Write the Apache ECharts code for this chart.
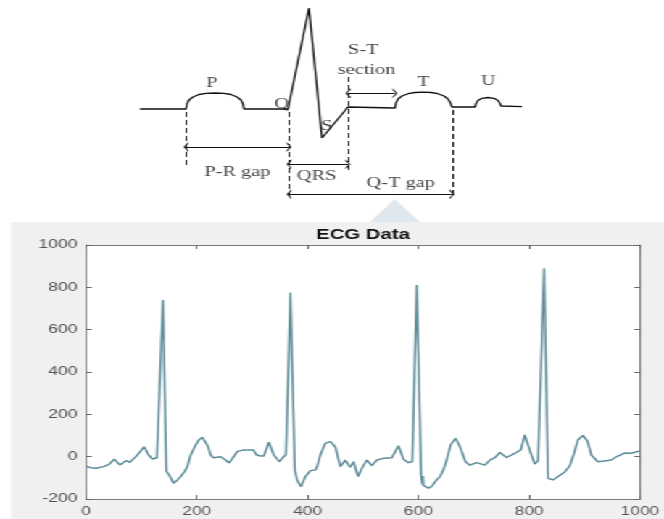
<!DOCTYPE html>
<html>
<head>
<meta charset="utf-8">
<script src="https://cdn.jsdelivr.net/npm/echarts@6/dist/echarts.min.js"></script>
<style>
  html, body { margin: 0; padding: 0; background: #fff; overflow: hidden; }
  /* the source picture is stretched sideways, so draw narrow and stretch */
  #chart { width: 458px; height: 519px; transform: scaleX(1.44978); transform-origin: 0 0; }
</style>
</head>
<body>
<div id="chart"></div>
<script>
// ---- schematic beat (t along the beat, a = amplitude above baseline) ----
const waveform = [
  [0, 0], [46, 0],
  [47, 5], [49, 9], [53, 12], [59, 14.5], [66, 15.7], [75, 16], [84, 15.7], [91, 14.5], [97, 12], [101, 9], [103, 5], [104, 0],
  [148, 0], [169, 101], [182, -29], [208, 2], [255, 1],
  [256, 6], [258, 10], [262, 13], [268, 15.3], [275, 16.5], [283, 16.8], [291, 16.5], [298, 15.3], [304, 13], [308, 10], [310.5, 6], [312, 2],
  [335, 2], [336, 5.5], [338, 8.5], [342, 10.7], [348, 11.5], [354, 10.7], [358, 8.5], [360, 5.5], [361, 3],
  [382, 2.3]
];
const guideLines = [
  [[46, -3], [46, -58]],
  [[149, -3], [149, -91]],
  [[208, 32], [208, -61]],
  [[312, -1], [312, -86]]
];
const spans = [
  [[46, -38], [149, -38]],
  [[149, -55.3], [208, -55.3]],
  [[149, -85.3], [312, -85.3]],
  [[208, 15.7], [255, 15.7]]
];
const waveLabels = [
  ['P', 71.7, 25.7], ['Q', 141.7, 5], ['S', 186.7, -17],
  ['S-T', 223.3, 58.3], ['section', 226.7, 38.3],
  ['T', 283.3, 26.3], ['U', 348.3, 27.3],
  ['P-R gap', 97.3, -63.7], ['QRS', 176.7, -67], ['Q-T gap', 260.7, -74.3]
];

// ---- ECG recording (sample index, amplitude) ----
const ecgSamples = [
  [0, -45], [8, -52], [18, -55], [32, -47], [42, -35], [51, -12], [56, -18], [61, -39], [66, -35], [72, -19],
  [79, -27], [84, -18], [90, 0], [99, 27], [105, 47], [109, 40], [113, 8], [120, -11], [128, -5], [131, 0],
  [139, 740], [145, -70], [150, -86], [158, -126], [165, -110], [171, -94], [178, -70], [183, -47], [189, 8],
  [198, 55], [204, 80], [210, 92], [215, 85], [220, 50], [225, 8], [230, -5], [234, -11], [243, 0], [252, -16],
  [258, -30], [263, -34], [268, 5], [273, 24], [284, 32], [302, 32], [308, 8], [315, 3], [321, 3], [330, 68],
  [339, 8], [349, -24], [355, -5], [361, 10], [369, 775], [377, -63], [381, -110], [388, -142], [396, -94],
  [405, -66], [414, -63], [418, -40], [423, 8], [432, 63], [441, 71], [450, 47], [459, -47], [468, -16],
  [477, -50], [483, -24], [491, -94], [498, -55], [507, -16], [516, -42], [525, -16], [537, -8], [552, -5],
  [564, 52], [573, -12], [582, -28], [589, -24], [597, 811], [605, -86], [607, -130], [608, -92], [609, -136],
  [612, -138], [618, -149], [624, -140], [633, -110], [639, -94], [645, -63], [651, -16], [658, 55], [667, 87],
  [675, 47], [685, -24], [693, -40], [705, -28], [720, -40], [729, -16], [738, -5], [747, 20], [759, -4],
  [774, 16], [785, 32], [792, 103], [801, 30], [810, -35], [816, -20], [827, 890], [834, -102], [843, -110],
  [852, -94], [863, -75], [873, -45], [880, 8], [888, 79], [897, 100], [905, 75], [912, 8], [924, -24],
  [936, -20], [948, -16], [960, 3], [972, 17], [984, 16], [995, 24], [1000, 26]
];
const xRange = [0, 1000];
const yRange = [-200, 1000];
const tickStep = 200;

const S = 664 / 458; // horizontal stretch
const chev = 'path://M5,0 L10,10 L8.4,10 L5,3 L1.6,10 L0,10 Z';

const axisGray = '#7a7a7a';
const labelStyle = { color: '#555', fontSize: 12, fontFamily: 'Liberation Sans', formatter: v => String(v) };

const chart = echarts.init(document.getElementById('chart'));

const boxAxis = (extra) => Object.assign({
  gridIndex: 1,
  type: 'value',
  interval: tickStep,
  axisLine: { show: true, onZero: false, lineStyle: { color: axisGray, width: 1 } },
  axisTick: { show: true, inside: true, length: 4, lineStyle: { color: '#666' } },
  splitLine: { show: false }
}, extra);

chart.setOption({
  animation: false,
  graphic: [
    { type: 'rect', z: -10, silent: true, shape: { x: 11 / S, y: 222, width: 458, height: 300 }, style: { fill: '#f0f0f0' } },
    { type: 'polygon', z: -10, silent: true, shape: { points: [[370 / S, 222], [395 / S, 199], [420 / S, 222]] }, style: { fill: '#dfe8ee' } },
    { type: 'rect', z: -9, silent: true, shape: { x: 86 / S, y: 245, width: 554 / S, height: 254 }, style: { fill: '#fff' } },
    { type: 'text', silent: true, x: 363 / S, y: 235, style: { text: 'ECG Data', align: 'center', verticalAlign: 'middle', font: 'bold 14px "Liberation Sans"', fill: '#111' } }
  ],
  grid: [
    { left: 0, top: 0, width: 458, height: 210 },
    { left: 86 / S, top: 245, width: 554 / S, height: 254 }
  ],
  xAxis: [
    { gridIndex: 0, type: 'value', min: -140, max: 524, show: false },
    boxAxis({ min: xRange[0], max: xRange[1], position: 'bottom', axisLabel: Object.assign({ margin: 7 }, labelStyle) }),
    boxAxis({ min: xRange[0], max: xRange[1], position: 'top', axisLabel: { show: false } })
  ],
  yAxis: [
    { gridIndex: 0, type: 'value', min: -101, max: 109, show: false },
    boxAxis({ min: yRange[0], max: yRange[1], position: 'left', axisLabel: Object.assign({ margin: 6 }, labelStyle) }),
    boxAxis({ min: yRange[0], max: yRange[1], position: 'right', axisLabel: { show: false } })
  ],
  series: [
    {
      name: 'beat', type: 'line', xAxisIndex: 0, yAxisIndex: 0,
      data: waveform, showSymbol: false, silent: true,
      lineStyle: { color: '#111', width: 1.3 }
    },
    {
      name: 'guides', type: 'lines', coordinateSystem: 'cartesian2d', xAxisIndex: 0, yAxisIndex: 0,
      data: guideLines.map(c => ({ coords: c })), silent: true, symbol: 'none',
      lineStyle: { color: '#111', width: 1, type: [5, 3], opacity: 1 }
    },
    {
      name: 'spans', type: 'lines', coordinateSystem: 'cartesian2d', xAxisIndex: 0, yAxisIndex: 0,
      data: spans.map(c => ({ coords: c })), silent: true,
      symbol: [chev, chev], symbolSize: [[10, 3.4], [10, 3.4]],
      lineStyle: { color: '#111', width: 1, opacity: 1 }
    },
    {
      name: 'labels', type: 'scatter', xAxisIndex: 0, yAxisIndex: 0, symbolSize: 0, silent: true,
      data: waveLabels.map(d => ({ name: d[0], value: [d[1], d[2]] })),
      label: { show: true, position: 'inside', formatter: '{b}', color: '#111', fontSize: 14, fontFamily: 'Liberation Serif' }
    },
    {
      name: 'ECG', type: 'line', xAxisIndex: 1, yAxisIndex: 1,
      data: ecgSamples, showSymbol: false, silent: true,
      lineStyle: { color: '#5f8d9a', width: 1.5 }
    }
  ]
});
</script>
</body>
</html>
